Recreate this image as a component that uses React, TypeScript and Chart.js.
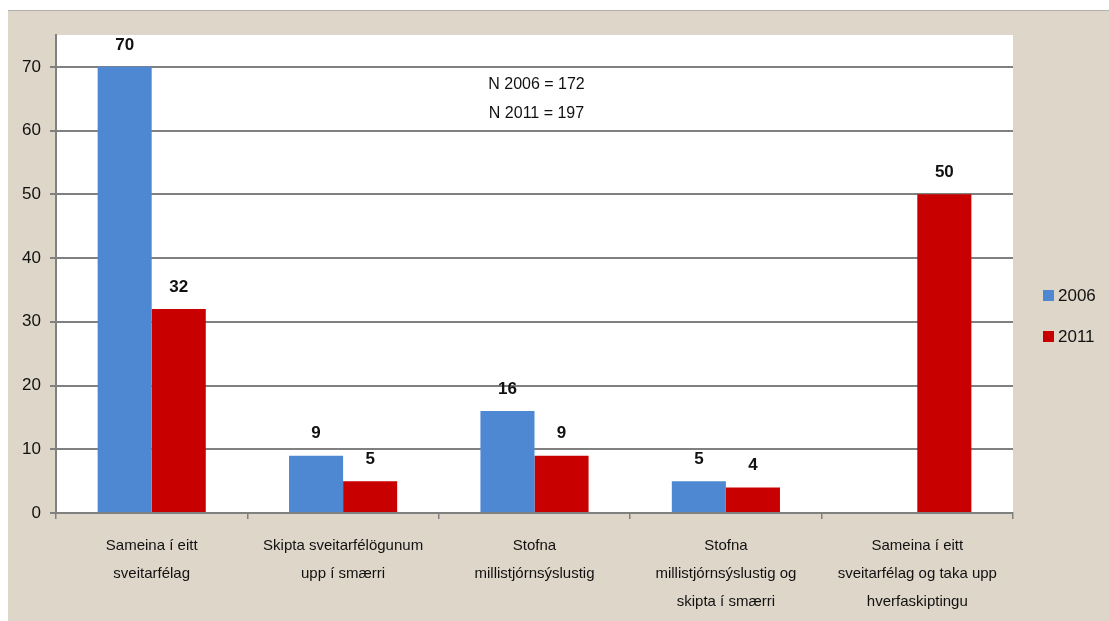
import React, { useEffect, useRef } from "react";
import { Chart, registerables } from "chart.js";

Chart.register(...registerables);

const categories: string[][] = [
  ["Sameina í eitt", "sveitarfélag"],
  ["Skipta sveitarfélögunum", "upp í smærri"],
  ["Stofna", "millistjórnsýslustig"],
  ["Stofna", "millistjórnsýslustig og", "skipta í smærri"],
  ["Sameina í eitt", "sveitarfélag og taka upp", "hverfaskiptingu"],
];
const values2006: number[] = [70, 9, 16, 5, 0];
const values2011: number[] = [32, 5, 9, 4, 50];
const seriesNames = ["2006", "2011"];
const yTicksMax = 70;
const noteLines = ["N 2006 = 172", "N 2011 = 197"];
const noteAnchorCategory = 2;
const noteAnchorValues = [67.2, 62.6];

const BLUE = "#4f88d2";
const RED = "#c80000";
const BEIGE = "#ddd6c9";
const GRID = "#808080";
const FONT = "'Liberation Sans', Arial, sans-serif";

const decorPlugin = {
  id: "decor",
  beforeDraw(chart: any) {
    const { ctx, chartArea } = chart;
    ctx.save();
    ctx.fillStyle = BEIGE;
    ctx.fillRect(0, 0, chart.width, chart.height);
    ctx.fillStyle = "#ffffff";
    ctx.fillRect(chartArea.left, chartArea.top, chartArea.right - chartArea.left, chartArea.bottom - chartArea.top);
    ctx.restore();
  },
  afterDatasetsDraw(chart: any) {
    const { ctx } = chart;
    ctx.save();
    ctx.font = `bold 17px ${FONT}`;
    ctx.fillStyle = "#111";
    ctx.textAlign = "center";
    ctx.textBaseline = "middle";
    chart.data.datasets.forEach((ds: any, di: number) => {
      const meta = chart.getDatasetMeta(di);
      meta.data.forEach((bar: any, i: number) => {
        const v = ds.data[i];
        if (!v) return;
        ctx.fillText(String(v), bar.x, bar.y - 22);
      });
    });
    ctx.restore();
  },
  afterDraw(chart: any) {
    const { ctx, chartArea, scales } = chart;
    ctx.save();
    ctx.font = `16px ${FONT}`;
    ctx.fillStyle = "#111";
    ctx.textAlign = "center";
    ctx.textBaseline = "middle";
    const nx = scales.x.getPixelForValue(noteAnchorCategory);
    noteLines.forEach((t, i) => {
      ctx.fillText(t, nx + 2, scales.y.getPixelForValue(noteAnchorValues[i]));
    });
    const colors = [BLUE, RED];
    const lx = chartArea.right + 30;
    const cy = chart.height / 2;
    const gap = 41;
    ctx.font = `17px ${FONT}`;
    ctx.textAlign = "left";
    seriesNames.forEach((name, i) => {
      const y = cy + (i - (seriesNames.length - 1) / 2) * gap;
      ctx.fillStyle = colors[i];
      ctx.fillRect(lx, y - 5.5, 11, 11);
      ctx.fillStyle = "#111";
      ctx.fillText(name, lx + 15, y + 1);
    });
    ctx.restore();
  },
};

export default function App() {
  const ref = useRef<HTMLCanvasElement | null>(null);
  useEffect(() => {
    if (!ref.current) return;
    const chart = new Chart(ref.current, {
      type: "bar",
      data: {
        labels: categories,
        datasets: [
          { label: seriesNames[0], data: values2006, backgroundColor: BLUE, categoryPercentage: 0.565, barPercentage: 1 },
          { label: seriesNames[1], data: values2011, backgroundColor: RED, categoryPercentage: 0.565, barPercentage: 1 },
        ],
      },
      options: {
        responsive: false,
        animation: false,
        layout: { padding: { top: 24, right: 96, left: 0, bottom: 0 } },
        plugins: { legend: { display: false }, tooltip: { enabled: false } },
        scales: {
          x: {
            grid: { offset: true, drawOnChartArea: false, drawTicks: true, tickLength: 6, color: GRID, lineWidth: 1.5 },
            border: { display: true, color: GRID, width: 2 },
            ticks: {
              autoSkip: false,
              maxRotation: 0,
              minRotation: 0,
              padding: 13,
              color: "#111",
              font: { family: FONT, size: 15, lineHeight: 1.85 },
            },
            afterFit: (s: any) => { s.height = 108; },
          },
          y: {
            min: 0,
            max: 75,
            ticks: { stepSize: 10, padding: 9, color: "#111", font: { family: FONT, size: 17 } },
            afterBuildTicks: (s: any) => { s.ticks = s.ticks.filter((t: any) => t.value <= yTicksMax); },
            grid: { color: GRID, lineWidth: 2, tickLength: 6 },
            border: { display: true, color: GRID, width: 2 },
            afterFit: (s: any) => { s.width = 48; },
          },
        },
      },
      plugins: [decorPlugin],
    });
    return () => chart.destroy();
  }, []);
  return (
    <div style={{ position: "absolute", left: 8, top: 10, width: 1101, height: 611, borderTop: "1px solid #b0b0b0", background: BEIGE }}>
      <canvas ref={ref} width={1101} height={610} style={{ display: "block", width: 1101, height: 610 }} />
    </div>
  );
}
